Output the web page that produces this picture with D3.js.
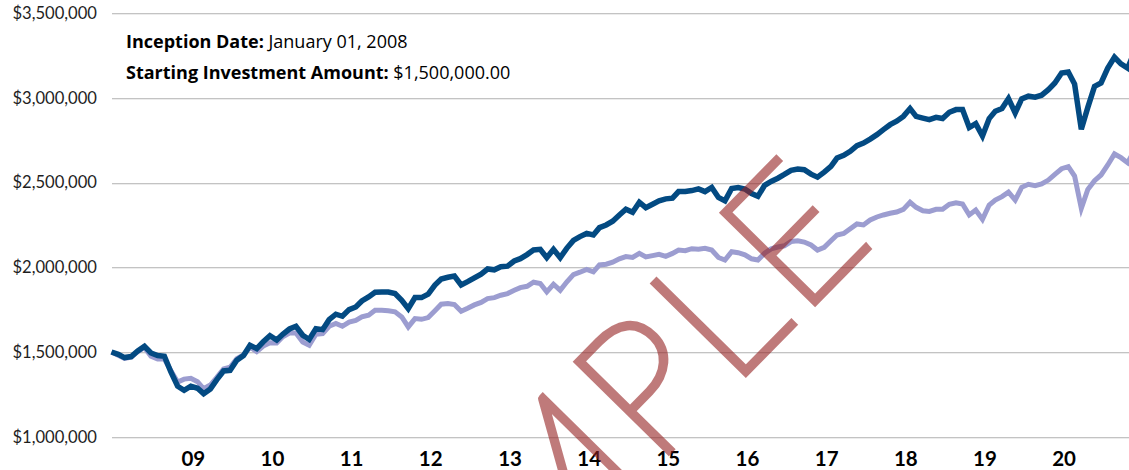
<!DOCTYPE html>
<html>
<head>
<meta charset="utf-8">
<script src="https://cdn.jsdelivr.net/npm/d3@7"></script>
<style>
  body { margin: 0; background: #fff; }
  svg { display: block; font-family: Lato, "Open Sans", sans-serif; }
</style>
</head>
<body>
<div id="viz"></div>
<script>
// month-start values, first point = inception (Jan 2008)
var startMonth = "2008-01-01";
var endMonth = "2020-11-01";

var portfolioValues = [
  1500000, 1486000, 1467000, 1473000, 1506000, 1534000, 1494000, 1479000, 1475000, 1382000, 1298000, 1274000,
  1298000, 1286000, 1254000, 1282000, 1337000, 1388000, 1392000, 1451000, 1479000, 1540000, 1520000, 1560000,
  1596000, 1571000, 1605000, 1636000, 1652000, 1599000, 1574000, 1638000, 1632000, 1691000, 1723000, 1711000,
  1750000, 1766000, 1801000, 1825000, 1853000, 1854000, 1854000, 1845000, 1805000, 1756000, 1821000, 1821000,
  1842000, 1895000, 1931000, 1941000, 1948000, 1896000, 1915000, 1938000, 1960000, 1990000, 1985000, 2003000,
  2007000, 2037000, 2051000, 2075000, 2102000, 2106000, 2057000, 2106000, 2057000, 2112000, 2159000, 2181000,
  2200000, 2191000, 2234000, 2250000, 2272000, 2309000, 2343000, 2325000, 2384000, 2352000, 2372000, 2392000,
  2404000, 2408000, 2447000, 2447000, 2453000, 2463000, 2447000, 2471000, 2412000, 2392000, 2465000, 2471000,
  2462000, 2435000, 2419000, 2484000, 2507000, 2526000, 2548000, 2572000, 2580000, 2576000, 2550000, 2532000,
  2562000, 2596000, 2645000, 2661000, 2685000, 2718000, 2733000, 2757000, 2783000, 2813000, 2842000, 2862000,
  2891000, 2937000, 2891000, 2881000, 2872000, 2885000, 2878000, 2915000, 2931000, 2931000, 2825000, 2848000,
  2775000, 2878000, 2921000, 2937000, 2996000, 2911000, 2994000, 3010000, 3004000, 3016000, 3049000, 3088000,
  3147000, 3153000, 3082000, 2815000, 2944000, 3068000, 3088000, 3176000, 3240000, 3201000, 3176000, 3270000
];

var benchmarkValues = [
  1500000, 1480000, 1462000, 1470000, 1503000, 1526000, 1475000, 1458000, 1458000, 1390000, 1323000, 1340000,
  1345000, 1325000, 1283000, 1305000, 1350000, 1400000, 1410000, 1460000, 1482000, 1530000, 1502000, 1535000,
  1555000, 1553000, 1590000, 1612000, 1612000, 1559000, 1540000, 1605000, 1609000, 1652000, 1668000, 1652000,
  1677000, 1687000, 1707000, 1717000, 1746000, 1746000, 1743000, 1737000, 1707000, 1648000, 1697000, 1693000,
  1703000, 1743000, 1782000, 1786000, 1780000, 1740000, 1758000, 1778000, 1793000, 1815000, 1821000, 1835000,
  1845000, 1864000, 1880000, 1888000, 1912000, 1904000, 1855000, 1900000, 1864000, 1913000, 1957000, 1971000,
  1988000, 1973000, 2014000, 2018000, 2030000, 2050000, 2063000, 2058000, 2082000, 2061000, 2069000, 2077000,
  2065000, 2082000, 2102000, 2098000, 2110000, 2106000, 2112000, 2102000, 2058000, 2043000, 2092000, 2086000,
  2074000, 2050000, 2043000, 2083000, 2109000, 2120000, 2127000, 2152000, 2156000, 2149000, 2132000, 2102000,
  2118000, 2157000, 2191000, 2200000, 2228000, 2256000, 2250000, 2279000, 2297000, 2309000, 2319000, 2326000,
  2342000, 2384000, 2354000, 2334000, 2330000, 2342000, 2342000, 2372000, 2381000, 2374000, 2309000, 2338000,
  2283000, 2368000, 2397000, 2417000, 2444000, 2397000, 2472000, 2490000, 2482000, 2492000, 2515000, 2549000,
  2582000, 2594000, 2539000, 2348000, 2460000, 2511000, 2545000, 2604000, 2669000, 2647000, 2617000, 2690000
];

var yTickValues = [1000000, 1500000, 2000000, 2500000, 3000000, 3500000];
var yearTicks = ["2009-01-01", "2010-01-01", "2011-01-01", "2012-01-01", "2013-01-01", "2014-01-01",
                 "2015-01-01", "2016-01-01", "2017-01-01", "2018-01-01", "2019-01-01", "2020-01-01"];
var inceptionLabel = ["Inception Date:", " January 01, 2008"];
var amountLabel = ["Starting Investment Amount:", " $1,500,000.00"];
var watermarkText = "SAMPLE";

var w = 1129;
var h = 470;
var margin = { left: 111.5, right: 1.3, top: 13.2, bottom: 33.3 };
var darkBlue = "#034a82";
var lavender = "#9c9dd0";

var parseDate = d3.timeParse("%Y-%m-%d");
var formatYear = d3.timeFormat("%y");
var formatMoney = d3.format("$,");

var months = portfolioValues.map(function(d, i) {
  return d3.timeMonth.offset(parseDate(startMonth), i);
});

var svg = d3.select("div#viz")
  .append("svg")
  .attr("width", w)
  .attr("height", h);

svg.append("rect").attr("width", w).attr("height", h).attr("fill", "#fff");

var x = d3.scaleTime()
  .domain([parseDate(startMonth), parseDate(endMonth)])
  .range([margin.left, w - margin.right]);
var y = d3.scaleLinear()
  .domain([1000000, 3500000])
  .range([h - margin.bottom, margin.top]);

// gridlines (grey line with a faint shadow under it)
var grid = svg.append("g");
grid.selectAll("line.shadow")
  .data(yTickValues)
  .enter()
  .append("line")
  .attr("class", "shadow")
  .attr("x1", 112).attr("x2", w)
  .attr("y1", function(d) { return Math.round(y(d)) + 1.5; })
  .attr("y2", function(d) { return Math.round(y(d)) + 1.5; })
  .attr("stroke", "#ececec")
  .attr("stroke-width", 1);
grid.selectAll("line.main")
  .data(yTickValues)
  .enter()
  .append("line")
  .attr("class", "main")
  .attr("x1", 112).attr("x2", w)
  .attr("y1", function(d) { return Math.round(y(d)) + 0.5; })
  .attr("y2", function(d) { return Math.round(y(d)) + 0.5; })
  .attr("stroke", "#c3c3c3")
  .attr("stroke-width", 1);

// y axis labels
var yAxis = d3.axisLeft(y)
  .tickValues(yTickValues)
  .tickFormat(formatMoney)
  .tickSize(0)
  .tickPadding(15);
var yg = svg.append("g")
  .attr("transform", "translate(" + 112 + ",0)")
  .call(yAxis);
yg.select(".domain").remove();
yg.selectAll("text")
  .attr("font-family", "Lato, sans-serif")
  .attr("font-size", 16.6)
  .attr("fill", "#1e1e1e");

// x axis labels
var xAxis = d3.axisBottom(x)
  .tickValues(yearTicks.map(parseDate))
  .tickFormat(formatYear)
  .tickSize(0)
  .tickPadding(15);
var xg = svg.append("g")
  .attr("transform", "translate(0," + y(1000000) + ")")
  .call(xAxis);
xg.select(".domain").remove();
xg.selectAll("text")
  .attr("dx", 2)
  .attr("font-family", "Lato, sans-serif")
  .attr("font-size", 20.5)
  .attr("font-weight", "bold")
  .attr("fill", "#000");

// lines
var plotLine = d3.line()
  .x(function(d, i) { return x(months[i]); })
  .y(function(d) { return y(d); });

svg.append("defs").append("clipPath")
  .attr("id", "plotclip")
  .append("rect")
  .attr("x", 0).attr("y", 0)
  .attr("width", w).attr("height", h);

svg.append("path")
  .datum(benchmarkValues)
  .attr("clip-path", "url(#plotclip)")
  .attr("fill", "none")
  .attr("stroke", lavender)
  .attr("stroke-width", 5)
  .attr("d", plotLine);

svg.append("path")
  .datum(portfolioValues)
  .attr("clip-path", "url(#plotclip)")
  .attr("fill", "none")
  .attr("stroke", darkBlue)
  .attr("stroke-width", 5.5)
  .attr("d", plotLine);

// info text
var info = svg.append("g")
  .attr("font-family", "'Open Sans', sans-serif")
  .attr("font-size", 18)
  .attr("fill", "#000");
[inceptionLabel, amountLabel].forEach(function(lbl, i) {
  var t = info.append("text")
    .attr("x", 126)
    .attr("y", 48 + i * 31);
  t.append("tspan").attr("font-weight", "bold").text(lbl[0]);
  t.append("tspan").text(lbl[1]);
});

// watermark
var wm = svg.append("text")
  .text(watermarkText)
  .attr("font-family", "Lato, sans-serif")
  .attr("font-weight", 100)
  .attr("font-size", 182)
  .attr("letter-spacing", 8)
  .attr("fill", "rgb(150,35,35)")
  .attr("stroke", "rgb(150,35,35)")
  .attr("stroke-width", 7.5)
  .attr("stroke-linejoin", "miter")
  .attr("opacity", 0.6);
// anchor the "P" of the watermark where it sits in the picture
var pStart = wm.node().getStartPositionOfChar(3);
wm.attr("transform", "translate(654,466) rotate(-45.5) translate(" + (-pStart.x) + ",0)");
</script>
</body>
</html>
